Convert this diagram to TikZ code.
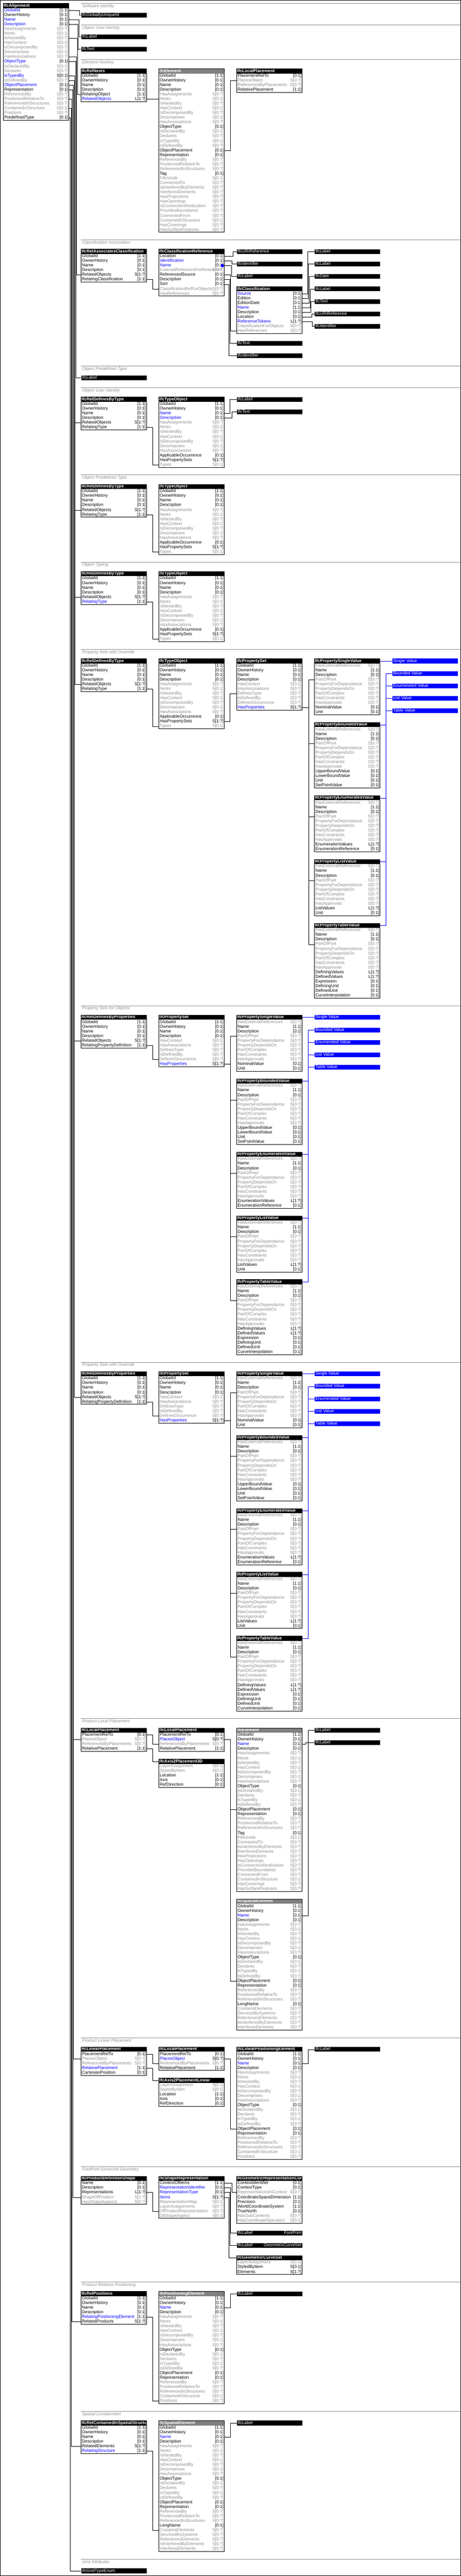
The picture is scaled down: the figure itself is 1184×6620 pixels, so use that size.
\documentclass[tikz,border=0pt]{standalone}
\usepackage{fontspec}
\setmainfont{Liberation Sans}
\definecolor{attrgray}{RGB}{140,140,140}
\definecolor{hdrgray}{RGB}{128,128,128}
\definecolor{attr-k}{RGB}{0,0,0}
\definecolor{attr-g}{RGB}{140,140,140}
\definecolor{attr-b}{RGB}{0,0,255}
\definecolor{mult-k}{RGB}{0,0,0}
\definecolor{mult-g}{RGB}{140,140,140}
\definecolor{mult-b}{RGB}{0,0,0}
\tikzstyle{hdr} = [anchor=north west, minimum width=168pt, minimum height=12pt, inner xsep=1pt, inner ysep=0pt, text=white, font=\fontsize{11}{12}\selectfont\bfseries, text height=8pt, text depth=2.5pt]
\tikzstyle{attr} = [anchor=north west, minimum width=168pt, minimum height=12pt, inner sep=0pt, text height=8pt, text depth=2.5pt]
\tikzstyle{typebar} = [anchor=north west, minimum width=168pt, minimum height=12pt, inner xsep=2pt, inner ysep=0pt, fill=black, text=white, text height=8pt, text depth=2.5pt]
\tikzstyle{valuebar} = [typebar, fill=blue]
\tikzstyle{border} = [draw=black, line width=1pt]
\tikzstyle{link} = [draw=black, line width=1pt]
\tikzstyle{vlink} = [draw=blue, line width=1pt]
\tikzstyle{groupline} = [draw=attrgray, line width=1pt]
\tikzstyle{grouplabel} = [anchor=base west, inner sep=0pt, text=attrgray, font=\fontsize{11}{12}\selectfont\itshape]
\newcommand{\rowsroot}[2]{GlobalId/[1:1]/k,OwnerHistory/[0:1]/k,Name/[0:1]/#1,Description/[0:1]/#2}
\def\rowsrel{GlobalId/[1:1]/k,OwnerHistory/[0:1]/k,Name/[0:1]/k,Description/[0:1]/k}
\def\rowsobj{HasAssignments/S[0:?]/g,Nests/S[0:1]/g,IsNestedBy/S[0:?]/g,HasContext/S[0:1]/g,IsDecomposedBy/S[0:?]/g,Decomposes/S[0:1]/g,HasAssociations/S[0:?]/g}
\def\rowsprod{ObjectType/[0:1]/k,IsDeclaredBy/S[0:1]/g,Declares/S[0:?]/g,IsTypedBy/S[0:1]/g,IsDefinedBy/S[0:?]/g,ObjectPlacement/[0:1]/k,Representation/[0:1]/k,ReferencedBy/S[0:?]/g,PositionedRelativeTo/S[0:?]/g,ReferencedInStructures/S[0:?]/g}
\def\rowselem{Tag/[0:1]/k,FillsVoids/S[0:1]/g,ConnectedTo/S[0:?]/g,IsInterferedByElements/S[0:?]/g,InterferesElements/S[0:?]/g,HasProjections/S[0:?]/g,HasOpenings/S[0:?]/g,IsConnectionRealization/S[0:?]/g,ProvidesBoundaries/S[0:?]/g,ConnectedFrom/S[0:?]/g,ContainedInStructure/S[0:1]/g,HasCoverings/S[0:?]/g,HasSurfaceFeatures/S[0:?]/g}
\def\rowsspat{LongName/[0:1]/k,ContainsElements/S[0:?]/g,ServicedBySystems/S[0:?]/g,ReferencesElements/S[0:?]/g,IsInterferedByElements/S[0:?]/g,InterferesElements/S[0:?]/g}
\def\rowspos{ContainedInStructure/S[0:1]/g,Positions/S[0:?]/g}
\newcommand{\rowstype}[2]{\rowsroot{#1}{#2},\rowsobj,ApplicableOccurrence/[0:1]/k,HasPropertySets/S[1:?]/k,Types/S[0:1]/g}
\def\rowspset{\rowsrel,HasContext/S[0:1]/g,HasAssociations/S[0:?]/g,DefinesType/S[0:?]/g,IsDefinedBy/S[0:?]/g,DefinesOccurrence/S[0:?]/g,HasProperties/S[1:?]/b}
\def\rowsprop{HasExternalReferences/S[0:?]/g,Name/[1:1]/k,Description/[0:1]/k,PartOfPset/S[0:?]/g,PropertyForDependance/S[0:?]/g,PropertyDependsOn/S[0:?]/g,PartOfComplex/S[0:?]/g,HasConstraints/S[0:?]/g,HasApprovals/S[0:?]/g}
\def\rowsplace#1{PlacementRelTo/[0:1]/k,PlacesObject/S[0:?]/#1,ReferencedByPlacements/S[0:?]/g,RelativePlacement/[1:1]/k}
\def\rowsaxis{LayerAssignment/S[0:1]/g,StyledByItem/S[0:1]/g,Location/[1:1]/k,Axis/[0:1]/k,RefDirection/[0:1]/k}
\newcommand{\ifctable}[6]{%
  \begin{scope}
    \clip (#2,#3) rectangle ++(168,12);
    \node (#1) [hdr, fill=#5] at (#2,#3) {\makebox[166pt][l]{#4}};
  \end{scope}
  \edef\rowlist{#6}
  \foreach \an/\am/\ac [count=\ai] in \rowlist {
    \node (#1-\ai) [attr] at (#2,#3+12*\ai) {\makebox[164pt][l]{\rlap{\textcolor{attr-\ac}{\an}}\hfill\llap{\textcolor{mult-\ac}{\am}}}};
    \xdef\lastrow{\ai}
  }
  \draw[border] (#1.north west) rectangle (#1-\lastrow.south east);
}
\newcommand{\ifcbar}[4]{\node (#1) [typebar] at (#2,#3) {\makebox[164pt][l]{#4}};}
\newcommand{\ifcgroup}[3]{\draw[groupline] (208.5,#2) -- (1184,#2); \node (#1) [grouplabel] at (211,#2+10.5) {#3};}
\newcommand{\ifclink}[3]{\draw[link] (#1.east) -- ++(#2,0) |- (#3.west);}
\newcommand{\proptables}[3]{%
  \ifctable{psv#1}{#2}{#3}{IfcPropertySingleValue}{black}{\rowsprop,NominalValue/[0:1]/k,Unit/[0:1]/k}
  \ifctable{pbv#1}{#2}{#3+164}{IfcPropertyBoundedValue}{black}{\rowsprop,UpperBoundValue/[0:1]/k,LowerBoundValue/[0:1]/k,Unit/[0:1]/k,SetPointValue/[0:1]/k}
  \ifctable{pev#1}{#2}{#3+352}{IfcPropertyEnumeratedValue}{black}{\rowsprop,EnumerationValues/L[1:?]/k,EnumerationReference/[0:1]/k}
  \ifctable{plv#1}{#2}{#3+516}{IfcPropertyListValue}{black}{\rowsprop,ListValues/L[1:?]/k,Unit/[0:1]/k}
  \ifctable{ptv#1}{#2}{#3+680}{IfcPropertyTableValue}{black}{\rowsprop,DefiningValues/L[1:?]/k,DefinedValues/L[1:?]/k,Expression/[0:1]/k,DefiningUnit/[0:1]/k,DefinedUnit/[0:1]/k,CurveInterpolation/[0:1]/k}
}
\newcommand{\valuebars}[3]{%
  \node (sv#1) [valuebar] at (#2,#3) {\makebox[164pt][l]{Single Value}};
  \node (bv#1) [valuebar] at (#2,#3+32) {\makebox[164pt][l]{Bounded Value}};
  \node (ev#1) [valuebar] at (#2,#3+64) {\makebox[164pt][l]{Enumerated Value}};
  \node (lv#1) [valuebar] at (#2,#3+96) {\makebox[164pt][l]{List Value}};
  \node (tv#1) [valuebar] at (#2,#3+128) {\makebox[164pt][l]{Table Value}};
}
\newcommand{\psetlinks}[3]{\foreach \pv in {psv,pbv,pev,plv,ptv} {\draw[link] (#1-10.east) -- ++(#2,0) |- (\pv#3-4.west);}}
\newcommand{\valuelinks}[2]{\foreach \pv/\vb in {psv/sv,pbv/bv,pev/ev,plv/lv,ptv/tv} {\draw[vlink] (\pv#1.east) -- ++(#2,0) |- (\vb#1.west);}}
\begin{document}
\begin{tikzpicture}[x=1pt, y=-1pt, font=\fontsize{11}{12}\selectfont]
\useasboundingbox (0,0) rectangle (1184,6620);
\draw[border] (0.5,0.5) rectangle (1183.5,6619.5);
\ifctable{al}{8.5}{8.5}{IfcAlignment}{black}{GlobalId/[1:1]/b,OwnerHistory/[0:1]/k,Name/[0:1]/b,Description/[0:1]/b,\rowsobj,ObjectType/[0:1]/b,IsDeclaredBy/S[0:1]/g,Declares/S[0:?]/g,IsTypedBy/S[0:1]/b,IsDefinedBy/S[0:?]/g,ObjectPlacement/[0:1]/b,Representation/[0:1]/k,ReferencedBy/S[0:?]/g,PositionedRelativeTo/S[0:?]/g,ReferencedInStructures/S[0:?]/g,ContainedInStructure/S[0:1]/g,Positions/S[0:?]/g,PredefinedType/[0:1]/k}

\ifcgroup{g1}{8.5}{Software Identity}
\ifcbar{guid}{208.5}{32.5}{IfcGloballyUniqueId}
\ifclink{al-1}{28}{guid}

\ifcgroup{g2}{64.5}{Object User Identity}
\ifcbar{lab1}{208.5}{88.5}{IfcLabel}
\ifcbar{txt1}{208.5}{120.5}{IfcText}
\ifclink{al-3}{26}{lab1}
\ifclink{al-4}{24}{txt1}

\ifcgroup{g3}{152.5}{Element Nesting}
\ifctable{nest}{208.5}{176.5}{IfcRelNests}{black}{\rowsrel,RelatingObject/[1:1]/k,RelatedObjects/L[1:?]/b}
\ifctable{elem1}{408.5}{176.5}{IfcElement}{hdrgray}{\rowsroot{k}{k},\rowsobj,\rowsprod,\rowselem}
\ifctable{lp1}{608.5}{176.5}{IfcLocalPlacement}{black}{\rowsplace{g}}
\ifclink{al-7}{22}{nest-5}
\ifclink{nest-6}{16}{elem1-6}
\ifclink{elem1-17}{16}{lp1-2}

\ifcgroup{g4}{616.5}{Classification Association}
\ifctable{rac}{208.5}{640.5}{IfcRelAssociatesClassification}{black}{\rowsrel,RelatedObjects/S[1:?]/k,RelatingClassification/[1:1]/k}
\ifctable{cref}{408.5}{640.5}{IfcClassificationReference}{black}{Location/[0:1]/k,Identification/[0:1]/b,Name/[0:1]/b,ExternalReferenceForResources/S[0:?]/g,ReferencedSource/[0:1]/k,Description/[0:1]/k,Sort/[0:1]/k,ClassificationRefForObjects/S[0:?]/g,HasReferences/S[0:?]/g}
\ifcbar{uri1}{608.5}{640.5}{IfcURIReference}
\ifcbar{id1}{608.5}{672.5}{IfcIdentifier}
\ifcbar{lab2}{608.5}{704.5}{IfcLabel}
\ifctable{cls}{608.5}{736.5}{IfcClassification}{black}{Source/[0:1]/b,Edition/[0:1]/k,EditionDate/[0:1]/k,Name/[1:1]/b,Description/[0:1]/k,Location/[0:1]/k,ReferenceTokens/L[1:?]/b,ClassificationForObjects/S[0:?]/g,HasReferences/S[0:?]/g}
\ifcbar{txt2}{608.5}{876.5}{IfcText}
\ifcbar{id2}{608.5}{908.5}{IfcIdentifier}
\ifcbar{lab3}{808.5}{640.5}{IfcLabel}
\ifcbar{lab4}{808.5}{672.5}{IfcLabel}
\ifcbar{date1}{808.5}{704.5}{IfcDate}
\ifcbar{lab5}{808.5}{736.5}{IfcLabel}
\ifcbar{txt3}{808.5}{768.5}{IfcText}
\ifcbar{uri2}{808.5}{800.5}{IfcURIReference}
\ifcbar{id3}{808.5}{832.5}{IfcIdentifier}
\node (mark) [circle, fill=blue, inner sep=0pt, minimum size=9pt] at (571.5,682.5) {};
\ifclink{al-11}{20}{rac-5}
\ifclink{rac-6}{16}{cref-8}
\ifclink{cref-1}{22}{uri1}
\ifclink{cref-2}{20}{id1}
\ifclink{cref-3}{18}{lab2}
\ifclink{cref-5}{16}{cls-9}
\ifclink{cref-6}{14}{txt2}
\ifclink{cref-7}{12}{id2}
\ifclink{cls-1}{14}{lab3}
\ifclink{cls-2}{16}{lab4}
\ifclink{cls-3}{18}{date1}
\ifclink{cls-4}{20}{lab5}
\ifclink{cls-5}{22}{txt3}
\ifclink{cls-6}{24}{uri2}
\ifclink{cls-7}{26}{id3}

\ifcgroup{g5}{940.5}{Object Predefined Type}
\ifcbar{lab6}{208.5}{964.5}{IfcLabel}
\ifclink{al-12}{18}{lab6}

\ifcgroup{g6}{996.5}{Object User Identity}
\ifctable{rdt1}{208.5}{1020.5}{IfcRelDefinesByType}{black}{\rowsrel,RelatedObjects/S[1:?]/k,RelatingType/[1:1]/k}
\ifctable{tob1}{408.5}{1020.5}{IfcTypeObject}{black}{\rowstype{b}{b}}
\ifcbar{lab7}{608.5}{1020.5}{IfcLabel}
\ifcbar{txt4}{608.5}{1052.5}{IfcText}
\ifclink{al-15}{16}{rdt1-5}
\ifclink{rdt1-6}{16}{tob1-14}
\ifclink{tob1-3}{14}{lab7}
\ifclink{tob1-4}{20}{txt4}

\ifcgroup{g7}{1220.5}{Object Predefined Type}
\ifctable{rdt2}{208.5}{1244.5}{IfcRelDefinesByType}{black}{\rowsrel,RelatedObjects/S[1:?]/k,RelatingType/[1:1]/k}
\ifctable{tob2}{408.5}{1244.5}{IfcTypeObject}{black}{\rowstype{k}{k}}
\ifclink{al-15}{16}{rdt2-5}
\ifclink{rdt2-6}{16}{tob2-14}

\ifcgroup{g8}{1444.5}{Object Typing}
\ifctable{rdt3}{208.5}{1468.5}{IfcRelDefinesByType}{black}{\rowsrel,RelatedObjects/S[1:?]/k,RelatingType/[1:1]/b}
\ifctable{tob3}{408.5}{1468.5}{IfcTypeObject}{black}{\rowstype{k}{k}}
\ifclink{al-15}{16}{rdt3-5}
\ifclink{rdt3-6}{16}{tob3-14}

\ifcgroup{g9}{1668.5}{Property Sets with Override}
\ifctable{rdt4}{208.5}{1692.5}{IfcRelDefinesByType}{black}{\rowsrel,RelatedObjects/S[1:?]/k,RelatingType/[1:1]/k}
\ifctable{tob4}{408.5}{1692.5}{IfcTypeObject}{black}{\rowstype{k}{k}}
\ifctable{pset1}{608.5}{1692.5}{IfcPropertySet}{black}{\rowspset}
\proptables{1}{808.5}{1692.5}
\valuebars{1}{1008.5}{1692.5}
\ifclink{al-15}{16}{rdt4-5}
\ifclink{rdt4-6}{16}{tob4-14}
\ifclink{tob4-13}{14}{pset1-7}
\psetlinks{pset1}{16.5}{1}
\valuelinks{1}{15}

\ifcgroup{g10}{2584.5}{Property Sets for Objects}
\ifctable{rdp1}{208.5}{2608.5}{IfcRelDefinesByProperties}{black}{\rowsrel,RelatedObjects/S[1:?]/k,RelatingPropertyDefinition/[1:1]/k}
\ifctable{pset2}{408.5}{2608.5}{IfcPropertySet}{black}{\rowspset}
\proptables{2}{608.5}{2608.5}
\valuebars{2}{808.5}{2608.5}
\ifclink{al-16}{14}{rdp1-5}
\ifclink{rdp1-6}{16}{pset2-9}
\psetlinks{pset2}{16}{2}
\valuelinks{2}{16}

\ifcgroup{g11}{3500.5}{Property Sets with Override}
\ifctable{rdp2}{208.5}{3524.5}{IfcRelDefinesByProperties}{black}{\rowsrel,RelatedObjects/S[1:?]/k,RelatingPropertyDefinition/[1:1]/k}
\ifctable{pset3}{408.5}{3524.5}{IfcPropertySet}{black}{\rowspset}
\proptables{3}{608.5}{3524.5}
\valuebars{3}{808.5}{3524.5}
\ifclink{al-16}{14}{rdp2-5}
\ifclink{rdp2-6}{16}{pset3-9}
\psetlinks{pset3}{16}{3}
\valuelinks{3}{16}

\ifcgroup{g12}{4416.5}{Product Local Placement}
\ifctable{lp2}{208.5}{4440.5}{IfcLocalPlacement}{black}{\rowsplace{g}}
\ifctable{lp3}{408.5}{4440.5}{IfcLocalPlacement}{black}{\rowsplace{b}}
\ifctable{a2p}{408.5}{4520.5}{IfcAxis2Placement3D}{black}{\rowsaxis}
\ifctable{elem2}{608.5}{4440.5}{IfcElement}{hdrgray}{\rowsroot{b}{k},\rowsobj,\rowsprod,\rowselem}
\ifctable{spat1}{608.5}{4880.5}{IfcSpatialElement}{hdrgray}{\rowsroot{b}{k},\rowsobj,\rowsprod,\rowsspat}
\ifcbar{lab8}{808.5}{4440.5}{IfcLabel}
\ifcbar{lab9}{808.5}{4472.5}{IfcLabel}
\ifclink{al-17}{12}{lp2-2}
\ifclink{lp2-1}{16}{lp3-3}
\ifclink{lp2-4}{16}{a2p}
\ifclink{lp3-2}{16}{elem2-17}
\ifclink{lp3-2}{16}{spat1-17}
\ifclink{elem2-3}{9}{lab9}
\ifclink{spat1-3}{16}{lab8}

\ifcgroup{g13}{5236.5}{Product Linear Placement}
\ifctable{linp}{208.5}{5260.5}{IfcLinearPlacement}{black}{PlacementRelTo/[0:1]/k,PlacesObject/S[0:?]/g,ReferencedByPlacements/S[0:?]/g,RelativePlacement/[1:1]/b,CartesianPosition/[0:1]/k}
\ifctable{lp4}{408.5}{5260.5}{IfcLocalPlacement}{black}{\rowsplace{b}}
\ifctable{a2pl}{408.5}{5340.5}{IfcAxis2PlacementLinear}{black}{\rowsaxis}
\ifctable{lpe}{608.5}{5260.5}{IfcLinearPositioningElement}{black}{\rowsroot{b}{k},\rowsobj,\rowsprod,\rowspos}
\ifcbar{lab10}{808.5}{5260.5}{IfcLabel}
\ifclink{al-17}{12}{linp-2}
\ifclink{linp-1}{16}{lp4-3}
\ifclink{linp-4}{16}{a2pl}
\ifclink{lp4-2}{16}{lpe-17}
\ifclink{lpe-3}{16}{lab10}

\ifcgroup{g14}{5568.5}{FootPrint GeomSet Geometry}
\ifctable{pds}{208.5}{5592.5}{IfcProductDefinitionShape}{black}{Name/[0:1]/k,Description/[0:1]/k,Representations/L[1:?]/k,ShapeOfProduct/S[1:?]/g,HasShapeAspects/S[0:?]/g}
\ifctable{shr}{408.5}{5592.5}{IfcShapeRepresentation}{black}{ContextOfItems/[1:1]/k,RepresentationIdentifier/[0:1]/b,RepresentationType/[0:1]/b,Items/S[1:?]/b,RepresentationMap/S[0:1]/g,LayerAssignments/S[0:?]/g,OfProductRepresentation/S[0:?]/g,OfShapeAspect/S[0:1]/g}
\ifctable{grc}{608.5}{5592.5}{IfcGeometricRepresentationCont}{black}{ContextIdentifier/[0:1]/k,ContextType/[0:1]/k,RepresentationsInContext/S[0:?]/g,CoordinateSpaceDimension/[1:1]/k,Precision/[0:1]/k,WorldCoordinateSystem/[1:1]/k,TrueNorth/[0:1]/k,HasSubContexts/S[0:?]/g,HasCoordinateOperation/S[0:1]/g}
\ifcbar{lab11}{608.5}{5732.5}{IfcLabel\hfill FootPrint}
\ifcbar{lab12}{608.5}{5764.5}{IfcLabel\hfill GeometricCurveSet}
\ifctable{gcs}{608.5}{5796.5}{IfcGeometricCurveSet}{black}{LayerAssignment/S[0:1]/g,StyledByItem/S[0:1]/k,Elements/S[1:?]/k}
\ifclink{al-18}{10}{pds-4}
\ifclink{pds-3}{16}{shr-7}
\ifclink{shr-1}{20}{grc-3}
\ifclink{shr-2}{16}{lab11}
\ifclink{shr-3}{14}{lab12}
\ifclink{shr-4}{12}{gcs}

\ifcgroup{g15}{5864.5}{Product Relative Positioning}
\ifctable{rpos}{208.5}{5888.5}{IfcRelPositions}{black}{\rowsrel,RelatingPositioningElement/[1:1]/b,RelatedProducts/S[1:?]/k}
\ifctable{pose}{408.5}{5888.5}{IfcPositioningElement}{hdrgray}{\rowsroot{b}{k},\rowsobj,\rowsprod,\rowspos}
\ifcbar{lab13}{608.5}{5888.5}{IfcLabel}
\ifclink{al-20}{8}{rpos-6}
\ifclink{rpos-5}{16}{pose-23}
\ifclink{pose-3}{16}{lab13}

\ifcgroup{g16}{6196.5}{Spatial Containment}
\ifctable{rcss}{208.5}{6220.5}{IfcRelContainedInSpatialStructu}{black}{\rowsrel,RelatedElements/S[1:?]/k,RelatingStructure/[1:1]/b}
\ifctable{spat2}{408.5}{6220.5}{IfcSpatialElement}{hdrgray}{\rowsroot{b}{k},\rowsobj,\rowsprod,\rowsspat}
\ifcbar{lab14}{608.5}{6220.5}{IfcLabel}
\ifclink{al-22}{6}{rcss-5}
\ifclink{rcss-6}{16}{spat2-23}
\ifclink{spat2-3}{16}{lab14}

\ifcgroup{g17}{6576.5}{Grid Attributes}
\ifcbar{genum}{208.5}{6600.5}{IfcGridTypeEnum}
\ifclink{al-24}{4}{genum}
\end{tikzpicture}
\end{document}
